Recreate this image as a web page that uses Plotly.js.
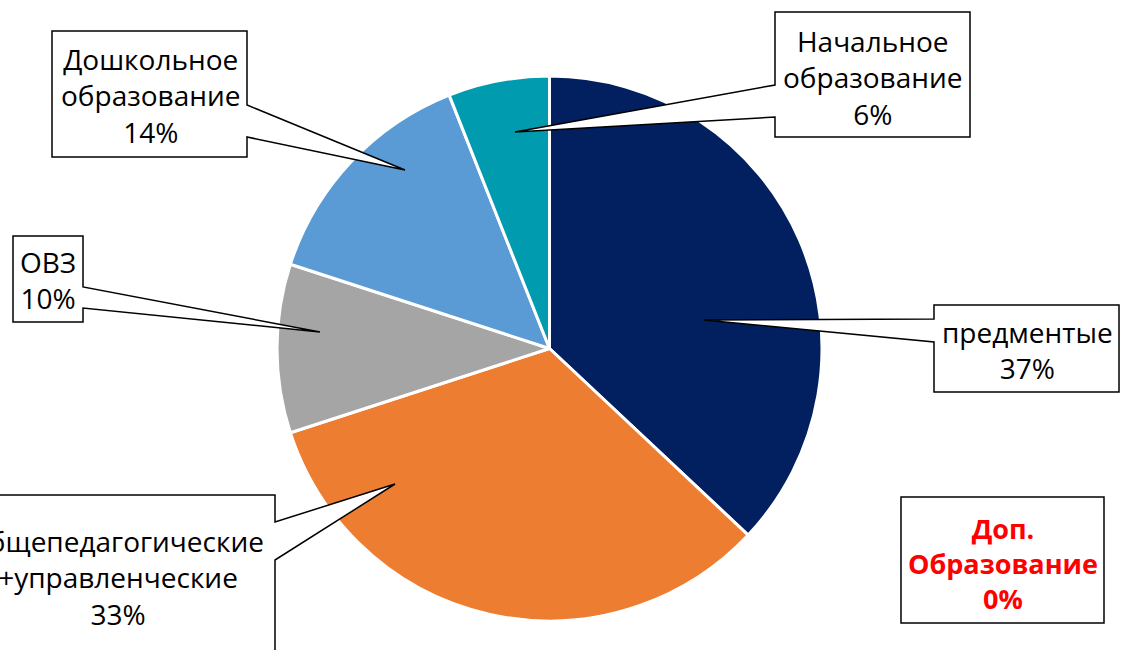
<!DOCTYPE html>
<html>
<head>
<meta charset="utf-8">
<script src="https://cdn.plot.ly/plotly-3.0.1.min.js"></script>
<style>html,body{margin:0;padding:0;background:#fff;}#chart{width:1122px;height:650px;}</style>
</head>
<body>
<div id="chart"></div>
<script>
// ---- data ----
var categories = ['предментые', 'общепедагогические +управленческие', 'ОВЗ', 'Дошкольное образование', 'Начальное образование', 'Доп. Образование'];
var shares = [37, 33, 10, 14, 6, 0];
var colors = ['#022060', '#ED7D31', '#A5A5A5', '#5B9BD5', '#009BAF', '#7F7F7F'];

// ---- layout helpers (pixel -> paper) ----
var W = 1122, H = 650;
function px(x) { return x / W; }
function py(y) { return 1 - y / H; }

// callout boxes: box edges, notch on side, tip point, text centre (pixels)
var callouts = [
  {i: 0, L: 934, T: 305, R: 1119, B: 392, side: 'left', n1: 319, n2: 342, tip: [704, 320], tx: 1027, ty: 350},
  {i: 1, L: -60, T: 495, R: 275, B: 700, side: 'right', n1: 522, n2: 560, tip: [395, 484], tx: 118, ty: 577},
  {i: 2, L: 13, T: 236, R: 83, B: 322, side: 'right', n1: 287, n2: 308, tip: [320, 332], tx: 48, ty: 280},
  {i: 3, L: 52, T: 31, R: 247, B: 157, side: 'right', n1: 105, n2: 137, tip: [405, 170], tx: 150, ty: 96},
  {i: 4, L: 775, T: 12, R: 970, B: 137, side: 'left', n1: 85, n2: 117, tip: [515, 132], tx: 872, ty: 77},
  {i: 5, L: 901, T: 497, R: 1104, B: 623, side: 'none', tx: 1003, ty: 563, red: true}
];

function P(x, y) { return px(x).toFixed(5) + ',' + py(y).toFixed(5); }

var shapes = [];
var annotations = [];
callouts.forEach(function (c) {
  var d;
  if (c.side === 'right') {
    d = 'M' + P(c.L, c.T) + ' L' + P(c.R, c.T) + ' L' + P(c.R, c.n1) + ' L' + P(c.tip[0], c.tip[1]) +
        ' L' + P(c.R, c.n2) + ' L' + P(c.R, c.B) + ' L' + P(c.L, c.B) + ' Z';
  } else if (c.side === 'left') {
    d = 'M' + P(c.L, c.T) + ' L' + P(c.R, c.T) + ' L' + P(c.R, c.B) + ' L' + P(c.L, c.B) +
        ' L' + P(c.L, c.n2) + ' L' + P(c.tip[0], c.tip[1]) + ' L' + P(c.L, c.n1) + ' Z';
  } else {
    d = 'M' + P(c.L, c.T) + ' L' + P(c.R, c.T) + ' L' + P(c.R, c.B) + ' L' + P(c.L, c.B) + ' Z';
  }
  shapes.push({type: 'path', xref: 'paper', yref: 'paper', path: d, layer: 'above',
    fillcolor: '#FFFFFF', line: {color: '#000000', width: 1.5}});
  var txt = categories[c.i].split(' ').join('<br>') + '<br>' + shares[c.i] + '%';
  if (c.red) txt = '<b>' + txt + '</b>';
  annotations.push({
    xref: 'paper', yref: 'paper', x: px(c.tx), y: py(c.ty), xanchor: 'center', yanchor: 'middle',
    text: txt, showarrow: false, align: 'center',
    font: {family: 'Open Sans, sans-serif', size: c.red ? 27 : 28, color: c.red ? '#FF0000' : '#000000'}
  });
});

var trace = {
  type: 'pie',
  labels: categories,
  values: shares,
  sort: false,
  direction: 'clockwise',
  rotation: 0,
  textinfo: 'none',
  hoverinfo: 'label+percent',
  marker: {colors: colors, line: {color: '#FFFFFF', width: 3}},
  domain: {x: [277 / W, 822 / W], y: [1 - 621 / H, 1 - 76 / H]}
};

var layout = {
  width: W, height: H,
  margin: {l: 0, r: 0, t: 0, b: 0},
  showlegend: false,
  paper_bgcolor: '#FFFFFF',
  shapes: shapes,
  annotations: annotations
};

Plotly.newPlot('chart', [trace], layout, {displayModeBar: false, staticPlot: true});
</script>
</body>
</html>
